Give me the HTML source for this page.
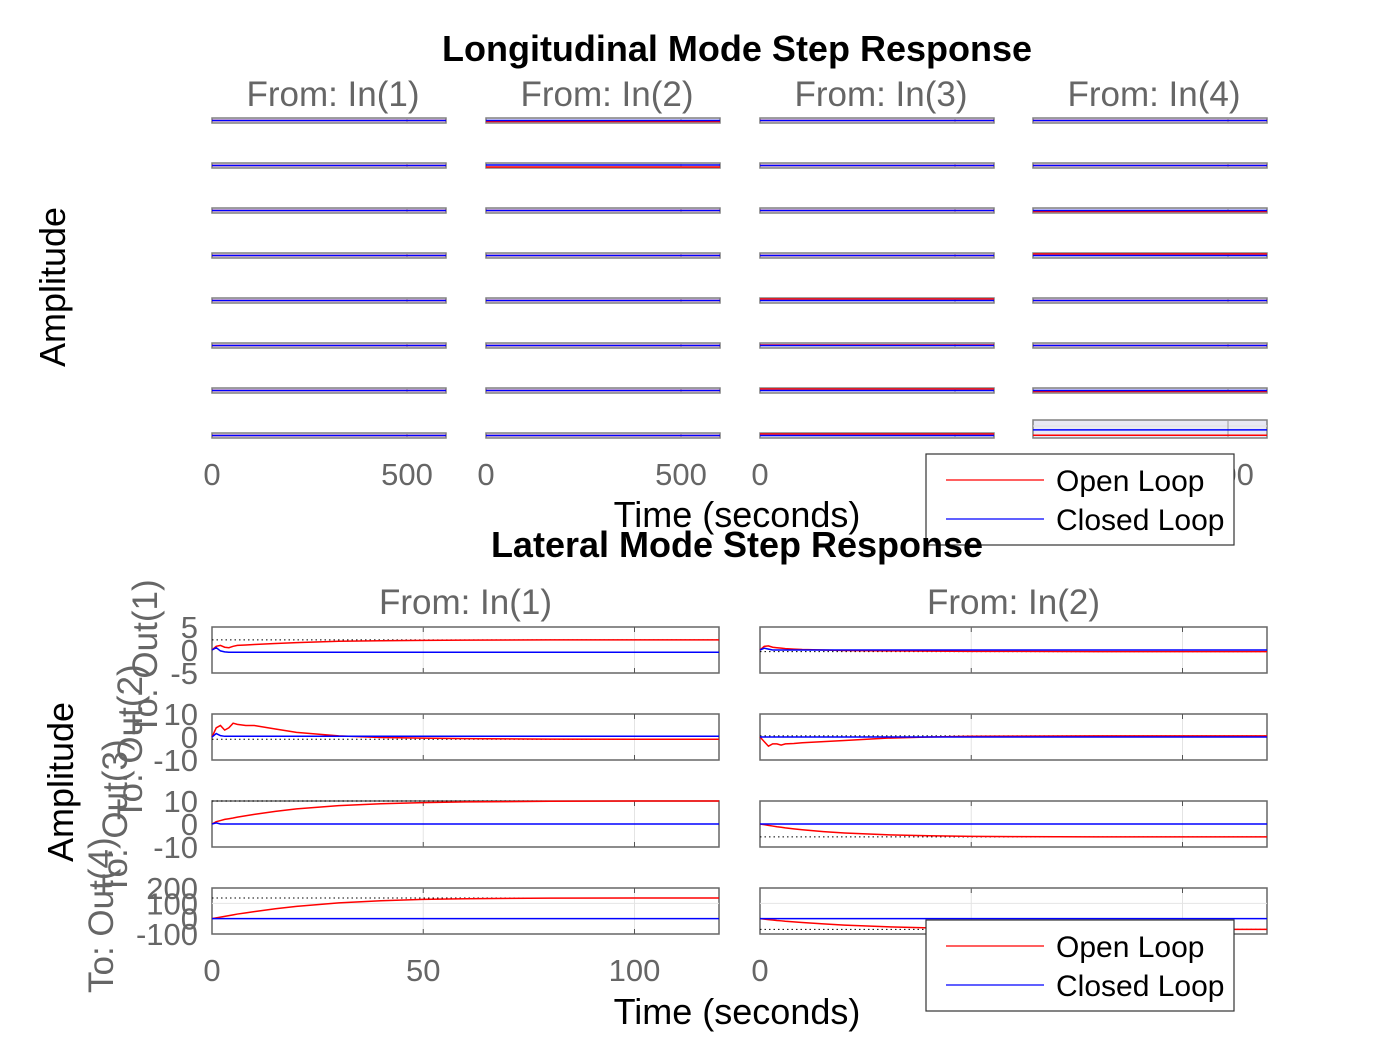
<!DOCTYPE html>
<html><head><meta charset="utf-8"><style>
html,body{margin:0;padding:0;background:#fff;}
svg{display:block;font-family:"Liberation Sans",Arial,sans-serif;}
</style></head><body>
<svg id="fig" width="1400" height="1050" viewBox="0 0 1400 1050" xmlns="http://www.w3.org/2000/svg">
<rect width="1400" height="1050" fill="#fff"/>
<g id="topgrp"></g>
<g id="botgrp"></g>
</svg>
<script>
// ---- Lateral data ----
const latTime = [0,1,2,3,4,5,6,8,10,15,20,30,40,50,60,80,100,120];
const latTicksX = [0,50,100];
const latYTicks = [[-5,0,5],[-10,0,10],[-10,0,10],[-100,0,100,200]];
const latYRange = [[-5,5],[-10,10],[-10,10],[-100,200]];
const latRedIn1 = [
 [0,0.8,1.0,0.6,0.5,0.8,1.0,1.1,1.2,1.4,1.6,1.9,2.0,2.1,2.15,2.2,2.2,2.2],
 [0,4,5,3,4,6,5.5,5,5,3.5,2,0.5,-0.2,-0.5,-0.7,-0.9,-1,-1],
 [0,1,1.5,2,2.3,2.6,3,3.6,4.2,5.5,6.6,8,8.8,9.3,9.6,9.9,10,10],
 [0,5,10,15,20,25,30,38,46,65,80,103,117,126,130,134,135,135]];
const latBlueIn1 = [
 [0,0.5,-0.2,-0.4,-0.5,-0.5,-0.5,-0.5,-0.5,-0.5,-0.5,-0.5,-0.5,-0.5,-0.5,-0.5,-0.5,-0.5],
 [0,1.5,0.6,0.3,0.3,0.3,0.3,0.3,0.3,0.3,0.3,0.3,0.3,0.3,0.3,0.3,0.3,0.3],
 [0,0.5,0,0,0,0,0,0,0,0,0,0,0,0,0,0,0,0],
 [0,0,0,0,0,0,0,0,0,0,0,0,0,0,0,0,0,0]];
const latRedIn2 = [
 [0,0.8,0.9,0.6,0.5,0.4,0.3,0.2,0.1,0,-0.1,-0.2,-0.25,-0.3,-0.3,-0.35,-0.35,-0.35],
 [0,-2,-4,-3,-3,-3.5,-3,-2.8,-2.5,-2,-1.5,-0.5,0,0.3,0.4,0.5,0.5,0.5],
 [0,-0.3,-0.6,-0.9,-1.2,-1.4,-1.7,-2.1,-2.5,-3.3,-3.9,-4.7,-5.1,-5.4,-5.5,-5.6,-5.6,-5.6],
 [0,-3,-6,-9,-12,-14,-17,-21,-25,-34,-42,-53,-60,-64,-67,-69,-70,-70]];
const latBlueIn2 = [
 [0,0.4,0.2,0,0,0,0,0,0,0,0,0,0,0,0,0,0,0],
 [0,0,0,0,0,0,0,0,0,0,0,0,0,0,0,0,0,0],
 [0,0,0,0,0,0,0,0,0,0,0,0,0,0,0,0,0,0],
 [0,0,0,0,0,0,0,0,0,0,0,0,0,0,0,0,0,0]];
// ---- Longitudinal data (normalized 0..1 within each tiny axis) ----
const lonRed = [
 [0.5,0.5,0.5,0.5,0.5,0.5,0.5,0.5],
 [0.3,0.2,0.5,0.5,0.5,0.5,0.5,0.5],
 [0.5,0.5,0.5,0.5,0.8,0.6,0.8,0.8],
 [0.5,0.5,0.3,0.8,0.5,0.5,0.3,0.15]];
const lonBlue = [
 [0.5,0.5,0.5,0.5,0.5,0.5,0.5,0.5],
 [0.5,0.6,0.5,0.5,0.5,0.5,0.5,0.5],
 [0.5,0.5,0.5,0.5,0.5,0.5,0.5,0.5],
 [0.5,0.5,0.5,0.5,0.5,0.5,0.5,0.45]];
const lonTicksX = [0,500];

const NS="http://www.w3.org/2000/svg";
function mk(parent,tag,attrs,text){const e=document.createElementNS(NS,tag);for(const k in attrs)e.setAttribute(k,attrs[k]);if(text!==undefined)e.textContent=text;parent.appendChild(e);return e;}
const topG=document.getElementById('topgrp'), botG=document.getElementById('botgrp');

// ---- Top (longitudinal) ----
const lonCols=[212,486,760,1033], lonW=234;
const lonRowTop=[118,163,208,253,298,343,388,433];
lonCols.forEach((x0,c)=>{
  const sx=t=>x0+t/600*lonW;
  lonRowTop.forEach((y0,r)=>{
    let h=5, yt=y0;
    if(c===3&&r===7){yt=420;h=18;}
    const g=mk(topG,'g',{});
    
    
    mk(g,'rect',{x:x0,y:yt,width:lonW,height:h,fill:'#e8e8f4',stroke:'#808080','stroke-width':1.5});
    if(c===3&&r===7) mk(g,'line',{x1:x0,x2:x0+lonW,y1:yt+6,y2:yt+6,stroke:'#e0e0e0'});
    mk(g,'line',{x1:sx(500),x2:sx(500),y1:yt,y2:yt+h,stroke:'#999'});
    const yv=v=>yt+h-v*h;
    const red=mk(g,'line',{x1:x0,x2:x0+lonW,y1:yv(lonRed[c][r]),y2:yv(lonRed[c][r]),stroke:'#f00','stroke-width':1.5});
    
    
    const blue=mk(g,'line',{x1:x0,x2:x0+lonW,y1:yv(lonBlue[c][r]),y2:yv(lonBlue[c][r]),stroke:'#00f','stroke-width':1.5});
    
    
  });
  const hd=mk(topG,'text',{x:x0+lonW/2+4,y:106,'text-anchor':'middle','font-size':35,fill:'#666'},'From: In('+(c+1)+')');
  
  
  if(c<3) lonTicksX.forEach(t=>{
    const tl=mk(topG,'text',{x:sx(t),y:485,'text-anchor':'middle','font-size':31,fill:'#666'},String(t));
    
    
  });
  if(c===3){
    const tl=mk(topG,'text',{x:sx(500),y:485,'text-anchor':'middle','font-size':31,fill:'#666'},'500');
    
    
  }
});

// ---- Bottom (lateral) ----
const latCols=[212,760], latW=507;
const latRowTop=[627,714,801,888], latH=46;
const latRed=[latRedIn1,latRedIn2], latBlue=[latBlueIn1,latBlueIn2];
latCols.forEach((x0,c)=>{
  const sx=t=>x0+t/120*latW;
  latRowTop.forEach((y0,r)=>{
    const [lo,hi]=latYRange[r];
    const sy=v=>y0+latH-(v-lo)/(hi-lo)*latH;
    const g=mk(botG,'g',{});
    
    
    mk(g,'rect',{x:x0,y:y0,width:latW,height:latH,fill:'#fff',stroke:'#666','stroke-width':1.5});
    latTicksX.slice(1).forEach(t=>{
      mk(g,'line',{x1:sx(t),x2:sx(t),y1:y0,y2:y0+latH,stroke:'#e4e4e4'});
      mk(g,'line',{x1:sx(t),x2:sx(t),y1:y0,y2:y0+5,stroke:'#555'});
      mk(g,'line',{x1:sx(t),x2:sx(t),y1:y0+latH-5,y2:y0+latH,stroke:'#555'});
    });
    if(r===3) mk(g,'line',{x1:x0,x2:x0+latW,y1:sy(100),y2:sy(100),stroke:'#e4e4e4'});
    const rv=latRed[c][r], bv=latBlue[c][r];
    const fin=rv[rv.length-1];
    mk(g,'line',{x1:x0,x2:x0+latW,y1:sy(fin),y2:sy(fin),stroke:'#000','stroke-width':1,'stroke-dasharray':'1.5,3'});
    const rp=mk(g,'polyline',{points:latTime.map((t,i)=>sx(t)+','+sy(rv[i])).join(' '),fill:'none',stroke:'#f00','stroke-width':1.5});
    
    
    const bp=mk(g,'polyline',{points:latTime.map((t,i)=>sx(t)+','+sy(bv[i])).join(' '),fill:'none',stroke:'#00f','stroke-width':1.5});
    
    
    if(c===0) latYTicks[r].forEach(v=>{
      const tl=mk(botG,'text',{x:198,y:sy(v)+11,'text-anchor':'end','font-size':31,fill:'#666'},String(v));
      
      
    });
  });
  const hd=mk(botG,'text',{x:x0+latW/2,y:614,'text-anchor':'middle','font-size':35,fill:'#666'},'From: In('+(c+1)+')');
  
  
  (c===0?latTicksX:[0]).forEach(t=>{
    const tl=mk(botG,'text',{x:sx(t),y:981,'text-anchor':'middle','font-size':31,fill:'#666'},String(t));
    
    
  });
});
</script>
<script>
(function(){
const NS="http://www.w3.org/2000/svg";const svg=document.getElementById('fig');
function t(name,x,y,size,txt,opts){const e=document.createElementNS(NS,'text');e.setAttribute('x',x);e.setAttribute('y',y);e.setAttribute('font-size',size);e.setAttribute('text-anchor','middle');if(opts)for(const k in opts)e.setAttribute(k,opts[k]);e.textContent=txt;svg.appendChild(e);return e;}
t('top-y-axis-title',0,0,36,'Amplitude',{transform:'translate(65,287) rotate(-90)',fill:'#000'});
t('top-x-axis-title',737,527,36,'Time (seconds)',{fill:'#000'});
t('lat-out1-label',0,0,35,'To: Out(1)',{transform:'translate(157,735) rotate(-90)','text-anchor':'start',fill:'#666'});
t('lat-out2-label',0,0,35,'To: Out(2)',{transform:'translate(142,820) rotate(-90)','text-anchor':'start',fill:'#666'});
t('lat-out3-label',0,0,35,'To: Out(3)',{transform:'translate(127,895) rotate(-90)','text-anchor':'start',fill:'#666'});
t('lat-out4-label',0,0,35,'To: Out(4)',{transform:'translate(113,993) rotate(-90)','text-anchor':'start',fill:'#666'});
t('bottom-y-axis-title',0,0,36,'Amplitude',{transform:'translate(73,782) rotate(-90)',fill:'#000'});
t('bottom-x-axis-title',737,1024,36,'Time (seconds)',{fill:'#000'});
function legend(name,y0){
 const g=document.createElementNS(NS,'g');svg.appendChild(g);
 const r=document.createElementNS(NS,'rect');r.setAttribute('x',926);r.setAttribute('y',y0);r.setAttribute('width',308);r.setAttribute('height',91);r.setAttribute('fill','#fff');r.setAttribute('stroke','#333');r.setAttribute('stroke-width',1.2);g.appendChild(r);
 [['Open Loop','#f00',26],['Closed Loop','#00f',65]].forEach(([lab,col,dy])=>{
  const l=document.createElementNS(NS,'line');l.setAttribute('x1',946);l.setAttribute('x2',1044);l.setAttribute('y1',y0+dy);l.setAttribute('y2',y0+dy);l.setAttribute('stroke',col);l.setAttribute('stroke-width',1.2);g.appendChild(l);
  const tx=document.createElementNS(NS,'text');tx.setAttribute('x',1056);tx.setAttribute('y',y0+dy+11);tx.setAttribute('font-size',30);tx.textContent=lab;
  
  
  g.appendChild(tx);
 });
}
legend('top-legend',454);
legend('bottom-legend',920);
t('top-title',737,61,36,'Longitudinal Mode Step Response',{'font-weight':'bold',fill:'#000'});
t('bottom-title',737,557,36,'Lateral Mode Step Response',{'font-weight':'bold',fill:'#000'});
})();
</script>
</body></html>
